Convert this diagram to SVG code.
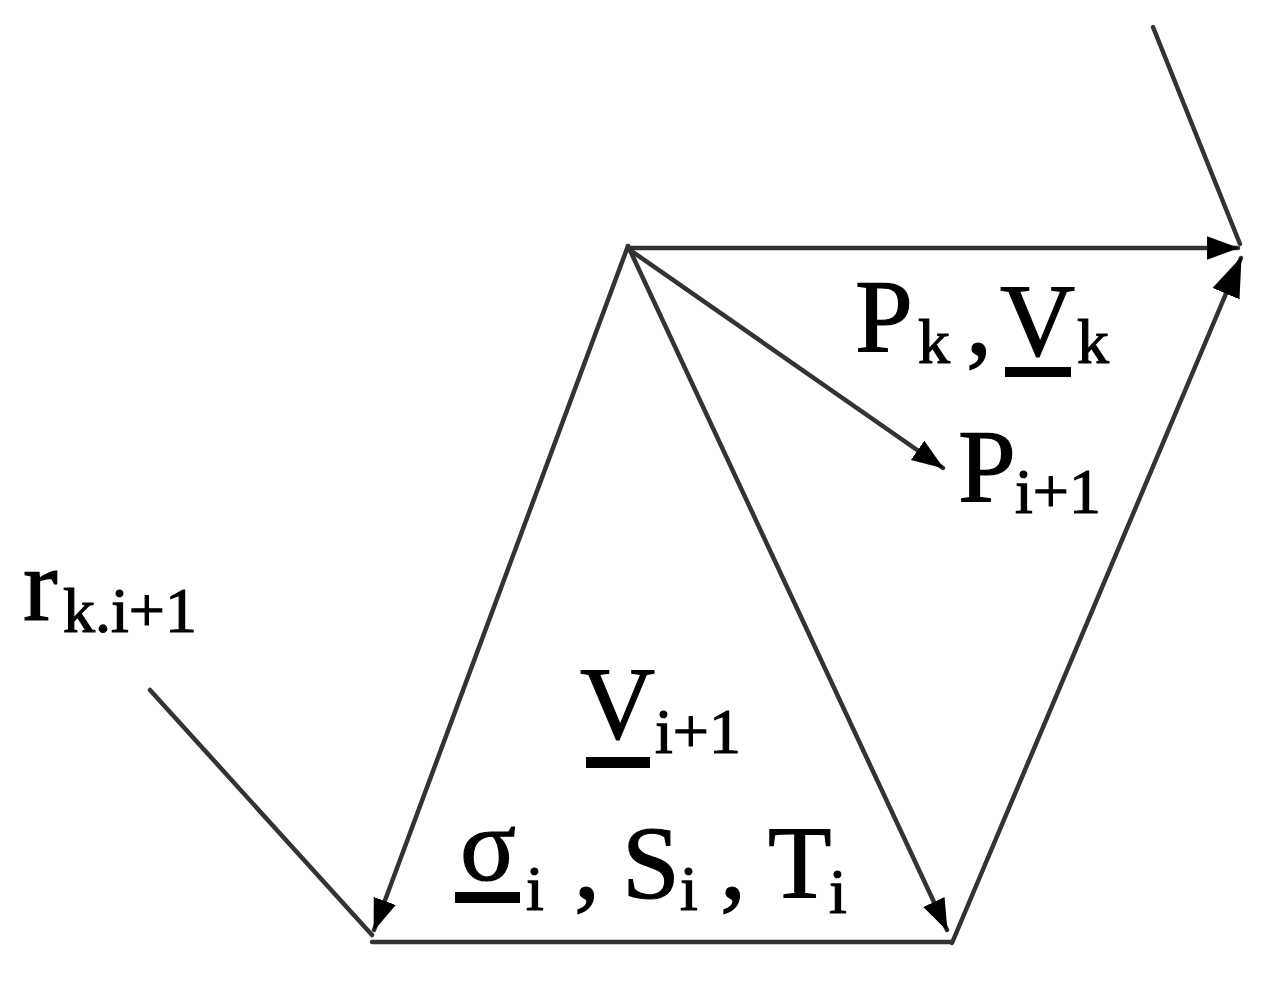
<svg xmlns="http://www.w3.org/2000/svg" width="1267" height="987" viewBox="0 0 1267 987">
<style>
.ln{stroke:#333;stroke-width:4.5;fill:none;stroke-linecap:round}
.m{font-family:"Liberation Serif","Times New Roman",serif;font-size:104px;fill:#000;stroke:#000;stroke-width:1.2}
.s{font-family:"Liberation Serif","Times New Roman",serif;font-size:64px;fill:#000;stroke:#000;stroke-width:1.2}
.ul{fill:#000}
</style>
<defs>
<marker id="ah" markerUnits="userSpaceOnUse" viewBox="0 0 30 22" markerWidth="32" markerHeight="24" refX="29" refY="11" orient="auto">
<path d="M0,0 L30,11 L0,22 z" fill="#000"/>
</marker>
<marker id="ahL" markerUnits="userSpaceOnUse" viewBox="0 0 30 22" markerWidth="40" markerHeight="30" refX="29" refY="11" orient="auto">
<path d="M0,0 L30,11 L0,22 z" fill="#000"/>
</marker>
</defs>
<rect width="1267" height="987" fill="#fff"/>
<g id="connectors">
<line class="ln" x1="628" y1="248" x2="1238" y2="248" marker-end="url(#ah)"/>
<line class="ln" x1="1153" y1="27" x2="1240" y2="244"/>
<line class="ln" x1="952" y1="943" x2="1241" y2="258" marker-end="url(#ahL)"/>
<line class="ln" x1="628" y1="246" x2="374" y2="930" marker-end="url(#ah)"/>
<line class="ln" x1="628" y1="246" x2="947" y2="930" marker-end="url(#ah)"/>
<line class="ln" x1="630" y1="250" x2="943" y2="468" marker-end="url(#ah)"/>
<line class="ln" x1="150" y1="690" x2="372" y2="935"/>
<line class="ln" x1="372" y1="942" x2="952" y2="942"/>
</g>
<g id="label-pk-vk">
<text class="m" x="855" y="352">P</text>
<text class="s" x="918" y="363">k</text>
<text class="m" x="966" y="354">,</text>
<text class="m" x="1000" y="355">V</text>
<rect class="ul" x="1005" y="367" width="66" height="10"/>
<text class="s" x="1077" y="363">k</text>
</g>
<g id="label-pi1">
<text class="m" x="958" y="502">P</text>
<text class="s" x="1015" y="513">i+1</text>
</g>
<g id="label-rki1">
<text class="m" x="23" y="620">r</text>
<text class="s" x="63" y="632">k.i+1</text>
</g>
<g id="label-vi1">
<text class="m" x="580" y="738">V</text>
<rect class="ul" x="586" y="757" width="64" height="11"/>
<text class="s" x="655" y="753">i+1</text>
</g>
<g id="label-sigma-s-t">
<text class="m" x="460" y="880">σ</text>
<rect class="ul" x="455" y="892" width="65" height="11"/>
<text class="s" x="526" y="910">i</text>
<text class="m" x="574" y="898">,</text>
<text class="m" x="622" y="898">S</text>
<text class="s" x="680" y="910">i</text>
<text class="m" x="720" y="898">,</text>
<text class="m" x="768" y="898">T</text>
<text class="s" x="829" y="913">i</text>
</g>
</svg>
